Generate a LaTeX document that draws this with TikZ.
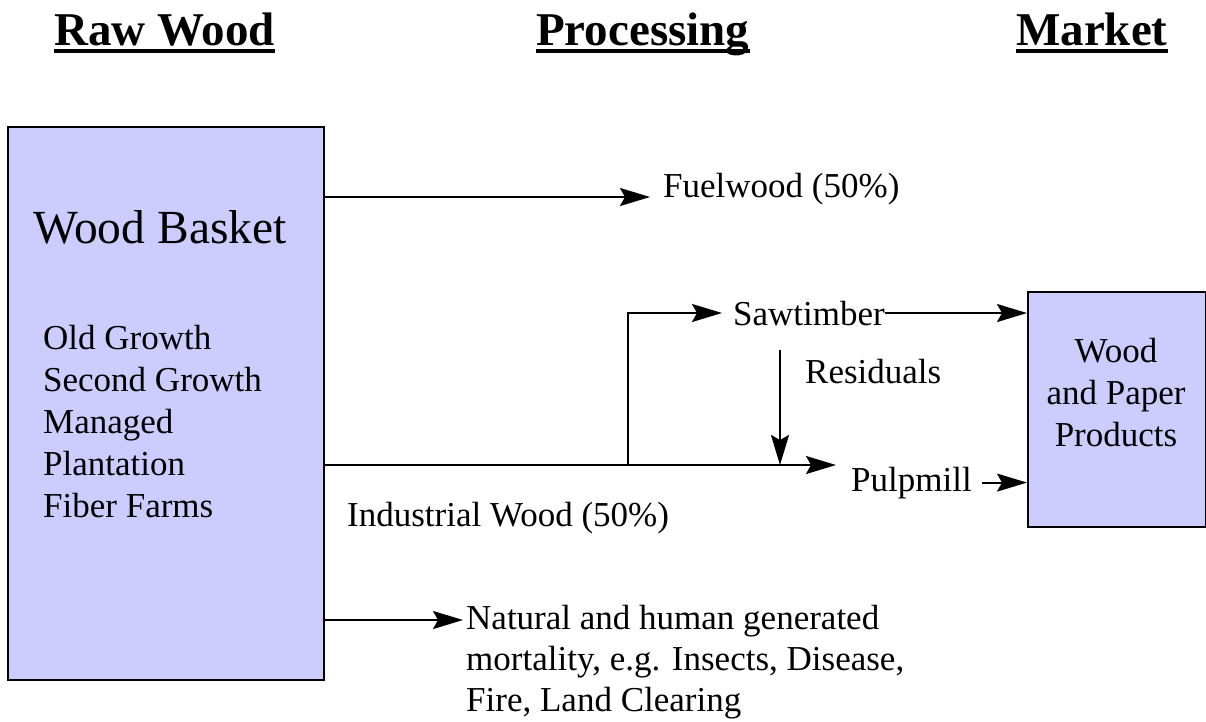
\documentclass[tikz,border=0pt]{standalone}
\usepackage{fontspec}
\setmainfont{Liberation Serif}
\usetikzlibrary{arrows.meta}
\definecolor{boxfill}{HTML}{CCCCFF}
\tikzset{
  x=1pt, y=-1pt,
  txt/.style={inner sep=0pt, font=\fontsize{35}{42}\selectfont},
  bigtxt/.style={inner sep=0pt, font=\fontsize{47.5}{52}\selectfont},
  headtxt/.style={inner sep=0pt, font=\fontsize{47}{52}\selectfont\bfseries},
  ubar/.style={line width=3.5pt},
  woodbox/.style={draw=black, fill=boxfill, line width=2pt, inner sep=0pt},
  arr/.style={line width=2pt, -{Stealth[length=30pt,width=18pt,inset=5pt]}},
}
\begin{document}
\begin{tikzpicture}
\useasboundingbox (0,0) rectangle (1206,721);
% headings
\node[headtxt, anchor=base west] (h1) at (54,45) {Raw Wood};
\node[headtxt, anchor=base west] (h2) at (536,45) {Processing};
\node[headtxt, anchor=base west] (h3) at (1016,45) {Market};
\foreach \h in {h1,h2,h3}
  \draw[ubar] ([yshift=-6pt]\h.base west) -- ([yshift=-6pt]\h.base east);
% boxes
\node[woodbox, anchor=north west, minimum width=316pt, minimum height=553pt] (wb) at (7,126) {};
\node[woodbox, anchor=north west, minimum width=178pt, minimum height=235pt] (rb) at (1027,291) {};
% left box text
\node[bigtxt, anchor=base west] (basket) at (33,243) {Wood Basket};
\node[txt, anchor=base west] (l1) at (43,349) {Old Growth};
\node[txt, anchor=base west] (l2) at (43,391) {Second Growth};
\node[txt, anchor=base west] (l3) at (43,433) {Managed};
\node[txt, anchor=base west] (l4) at (43,475) {Plantation};
\node[txt, anchor=base west] (l5) at (43,517) {Fiber Farms};
% right box text
\node[txt, anchor=base] (r1) at (1116,362) {Wood};
\node[txt, anchor=base] (r2) at (1116,404) {and Paper};
\node[txt, anchor=base] (r3) at (1116,446) {Products};
% process texts
\node[txt, anchor=base west] (fuel) at (663,197) {Fuelwood (50\%)};
\node[txt, anchor=base west] (saw) at (733,325) {Sawtimber};
\node[txt, anchor=base west] (resid) at (805,383) {Residuals};
\node[txt, anchor=base west] (pulp) at (851,491) {Pulpmill};
\node[txt, anchor=base west] (ind) at (347,526) {Industrial Wood (50\%)};
\node[txt, anchor=base west] (m1) at (466,629) {Natural and human generated};
\node[txt, anchor=base west] (m2) at (466,670) {mortality, e.g. Insects, Disease,};
\node[txt, anchor=base west] (m3) at (466,711) {Fire, Land Clearing};
% coordinates
\coordinate (fuelout) at (323,197);
\coordinate (indout) at (323,465);
\coordinate (mortout) at (323,620);
\coordinate (pulptip) at (836,465);
\coordinate (branch) at (628,465);
\coordinate (sawtip) at (722,313);
\coordinate (restop) at (780,350);
\coordinate (resbot) at (780,465);
\coordinate (morttip) at (463,620);
\coordinate (fueltip) at (650,197);
% connectors
\draw[arr] (fuelout) -- (fueltip);
\draw[arr] (indout) -- (pulptip);
\draw[arr] (branch) |- (sawtip);
\draw[arr] (saw.east) -- (rb.west |- saw.east);
\draw[arr] (restop) -- (resbot);
\draw[arr] ([xshift=10pt]pulp.east) -- (rb.west |- pulp.east);
\draw[arr] (mortout) -- (morttip);
\end{tikzpicture}
\end{document}
